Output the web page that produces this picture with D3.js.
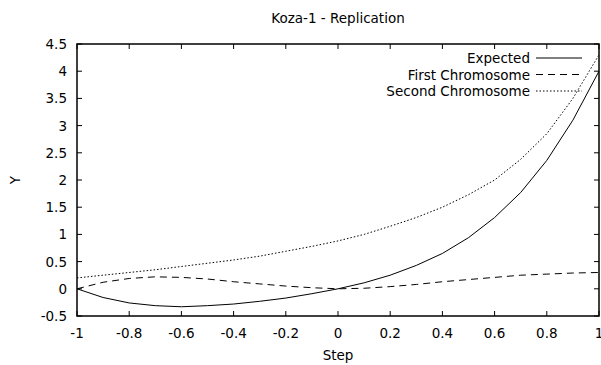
<!DOCTYPE html>
<html lang="en">
<head>
  <meta charset="UTF-8">
  <title>Koza-1 - Replication</title>
  <style>
    body { margin: 0; background: #ffffff; }
    #chart { width: 601px; height: 365px; }
    text { font-family: "DejaVu Sans", sans-serif; font-size: 13.5px; fill: #000; }
  </style>
  <script src="https://cdnjs.cloudflare.com/ajax/libs/d3/7.8.5/d3.min.js"></script>
</head>
<body>
<div id="chart"></div>
<script>
  // data
  var steps = [-1, -0.9, -0.8, -0.7, -0.6, -0.5, -0.4, -0.3, -0.2, -0.1, 0, 0.1, 0.2, 0.3, 0.4, 0.5, 0.6, 0.7, 0.8, 0.9, 1];
  var expected = [0, -0.16, -0.26, -0.31, -0.33, -0.31, -0.28, -0.23, -0.17, -0.09, 0, 0.11, 0.25, 0.43, 0.65, 0.94, 1.31, 1.77, 2.36, 3.1, 4];
  var firstChromosome = [0, 0.12, 0.19, 0.22, 0.21, 0.18, 0.13, 0.09, 0.05, 0.02, 0, 0.01, 0.04, 0.08, 0.13, 0.17, 0.21, 0.25, 0.27, 0.29, 0.3];
  var secondChromosome = [0.2, 0.25, 0.3, 0.35, 0.41, 0.47, 0.53, 0.6, 0.69, 0.78, 0.88, 1.0, 1.15, 1.31, 1.5, 1.73, 2.0, 2.38, 2.85, 3.5, 4.3];
  var xTicks = [-1, -0.8, -0.6, -0.4, -0.2, 0, 0.2, 0.4, 0.6, 0.8, 1];
  var yTicks = [-0.5, 0, 0.5, 1, 1.5, 2, 2.5, 3, 3.5, 4, 4.5];
  var seriesNames = ["Expected", "First Chromosome", "Second Chromosome"];
  var seriesDash = [null, "7,5", "1.5,2"];

  var W = 601, H = 365;
  var pLeft = 77, pRight = 599, pTop = 44, pBottom = 316;

  var x = d3.scaleLinear().domain([-1, 1]).range([pLeft, pRight]);
  var y = d3.scaleLinear().domain([-0.5, 4.5]).range([pBottom, pTop]);

  var svg = d3.select("#chart").append("svg")
      .attr("width", W)
      .attr("height", H);

  // clip to plot box
  svg.append("clipPath").attr("id", "clip")
    .append("rect")
      .attr("x", pLeft).attr("y", pTop)
      .attr("width", pRight - pLeft).attr("height", pBottom - pTop);

  // gnuplot style labels, plain hyphen minus
  var fmt = function(d) { return String(d); };

  // ticks, mirrored on all sides (pointing in)
  var tickLen = 5;
  var g = svg.append("g").attr("stroke", "#000").attr("stroke-width", 1);
  xTicks.forEach(function(t) {
    g.append("line").attr("x1", x(t)).attr("x2", x(t)).attr("y1", pBottom).attr("y2", pBottom - tickLen);
    g.append("line").attr("x1", x(t)).attr("x2", x(t)).attr("y1", pTop).attr("y2", pTop + tickLen);
  });
  yTicks.forEach(function(t) {
    g.append("line").attr("x1", pLeft).attr("x2", pLeft + tickLen).attr("y1", y(t)).attr("y2", y(t));
    g.append("line").attr("x1", pRight).attr("x2", pRight - tickLen).attr("y1", y(t)).attr("y2", y(t));
  });

  svg.selectAll(".xlab").data(xTicks).enter().append("text")
      .attr("x", function(d) { return x(d); })
      .attr("y", pBottom + 22)
      .attr("text-anchor", "middle")
      .text(fmt);

  svg.selectAll(".ylab").data(yTicks).enter().append("text")
      .attr("x", pLeft - 10)
      .attr("y", function(d) { return y(d) + 5; })
      .attr("text-anchor", "end")
      .text(fmt);

  // series
  var allSeries = [expected, firstChromosome, secondChromosome];
  var line = d3.line()
      .x(function(d, i) { return x(steps[i]); })
      .y(function(d) { return y(d); });

  allSeries.forEach(function(s, k) {
    svg.append("path")
        .datum(s)
        .attr("d", line)
        .attr("clip-path", "url(#clip)")
        .attr("fill", "none")
        .attr("stroke", "#000")
        .attr("stroke-width", 1)
        .attr("stroke-dasharray", seriesDash[k]);
  });

  // legend
  seriesNames.forEach(function(name, k) {
    var ly = 58 + k * 16.5;
    svg.append("text")
        .attr("x", 530)
        .attr("y", ly + 5)
        .attr("text-anchor", "end")
        .text(name);
    svg.append("line")
        .attr("x1", 536).attr("x2", 582)
        .attr("y1", ly).attr("y2", ly)
        .attr("stroke", "#000")
        .attr("stroke-width", 1)
        .attr("stroke-dasharray", seriesDash[k]);
  });

  // frame
  svg.append("rect")
      .attr("x", pLeft).attr("y", pTop)
      .attr("width", pRight - pLeft).attr("height", pBottom - pTop)
      .attr("fill", "none")
      .attr("stroke", "#000")
      .attr("stroke-width", 1.5);

  // titles
  svg.append("text")
      .attr("x", (pLeft + pRight) / 2)
      .attr("y", 23)
      .attr("text-anchor", "middle")
      .text("Koza-1 - Replication");

  svg.append("text")
      .attr("x", (pLeft + pRight) / 2)
      .attr("y", 360)
      .attr("text-anchor", "middle")
      .text("Step");

  svg.append("text")
      .attr("transform", "translate(20," + ((pTop + pBottom) / 2) + ") rotate(-90)")
      .attr("text-anchor", "middle")
      .text("Y");
</script>
</body>
</html>
